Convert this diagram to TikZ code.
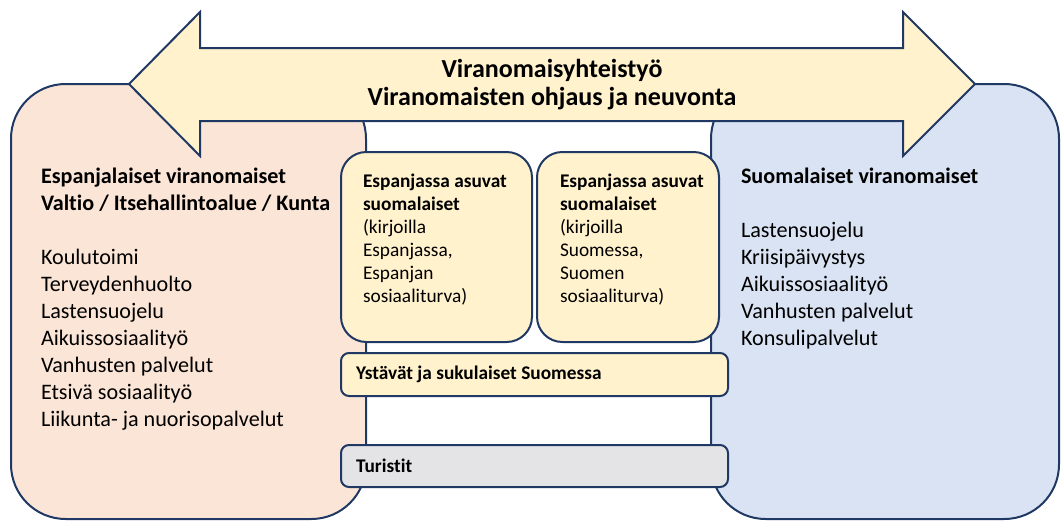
\documentclass[tikz,border=0pt]{standalone}
\usepackage{fontspec}
\setmainfont{Carlito}[Ligatures=NoCommon]
\usepackage{tikz}
\usetikzlibrary{fit}

\definecolor{edgeblue}{RGB}{32,56,100}
\definecolor{peach}{HTML}{FBE5D6}
\definecolor{paleblue}{HTML}{DAE3F3}
\definecolor{cream}{HTML}{FFF2CC}
\definecolor{touristgray}{HTML}{E4E4E6}

\begin{document}
\begin{tikzpicture}[x=0.75pt,y=-0.75pt,line width=1.5pt]
  \tikzstyle{authority}=[draw=edgeblue,rounded corners=41pt,inner sep=0pt]
  \tikzstyle{resident}=[draw=edgeblue,fill=cream,rounded corners=19pt,inner sep=0pt]
  \tikzstyle{strip}=[draw=edgeblue,rounded corners=6pt,inner sep=0pt]
  \tikzstyle{listtext}=[anchor=base west,align=left,inner sep=0pt,font=\fontsize{16.6}{20.25}\selectfont]
  \tikzstyle{boxtext}=[anchor=base west,align=left,inner sep=0pt,font=\fontsize{14.5}{17.25}\selectfont]

  \useasboundingbox (0,0) rectangle (1061,521);

  % viranomaiset molemmin puolin
  \node[authority,fill=peach,fit={(11,84) (366,519)}] (spain) {};
  \node[authority,fill=paleblue,fit={(711,84) (1059,519)}] (finland) {};

  % yhteistyonuoli
  \draw[draw=edgeblue,fill=cream,line join=miter] (129,84) -- (200,12) -- (200,48) -- (903,48)
    -- (903,12) -- (975,84) -- (903,156) -- (903,121) -- (200,121) -- (200,156) -- cycle;
  \node[align=center,inner sep=0pt,font=\fontsize{19.5}{21}\selectfont\bfseries] (coop) at (552,85)
    {Viranomaisyhteistyö\\Viranomaisten ohjaus ja neuvonta};

  % asukkaat
  \node[resident,fit={(341,152) (532,342)}] (resES) {};
  \node[resident,fit={(537,152) (719,342)}] (resFI) {};
  \node[strip,fill=cream,fit={(341,353) (728,396)}] (kin) {};
  \node[strip,fill=touristgray,fit={(341,445) (728,487)}] (tourists) {};

  % tekstit (base = viimeisen rivin peruslinja)
  \node[listtext] (spaintext) at (40,426) {\textbf{Espanjalaiset viranomaiset}\\
    \textbf{Valtio / Itsehallintoalue / Kunta}\\[20.25pt]
    Koulutoimi\\Terveydenhuolto\\Lastensuojelu\\Aikuissosiaalityö\\
    Vanhusten palvelut\\Etsivä sosiaalityö\\Liikunta- ja nuorisopalvelut};
  \node[listtext] (finlandtext) at (740,345) {\textbf{Suomalaiset viranomaiset}\\[20.25pt]
    Lastensuojelu\\Kriisipäivystys\\Aikuissosiaalityö\\Vanhusten palvelut\\Konsulipalvelut};

  \node[boxtext] (resEStext) at (362,302) {\textbf{Espanjassa asuvat}\\\textbf{suomalaiset}\\
    (kirjoilla\\Espanjassa,\\Espanjan\\sosiaaliturva)};
  \node[boxtext] (resFItext) at (559,302) {\textbf{Espanjassa asuvat}\\\textbf{suomalaiset}\\
    (kirjoilla\\Suomessa,\\Suomen\\sosiaaliturva)};

  \node[anchor=west,inner sep=0pt,font=\fontsize{14.5}{17}\selectfont\bfseries] (kintext) at (355,374)
    {Ystävät ja sukulaiset Suomessa};
  \node[anchor=west,inner sep=0pt,font=\fontsize{14.5}{17}\selectfont\bfseries] (touriststext) at (355,466)
    {Turistit};
\end{tikzpicture}
\end{document}
